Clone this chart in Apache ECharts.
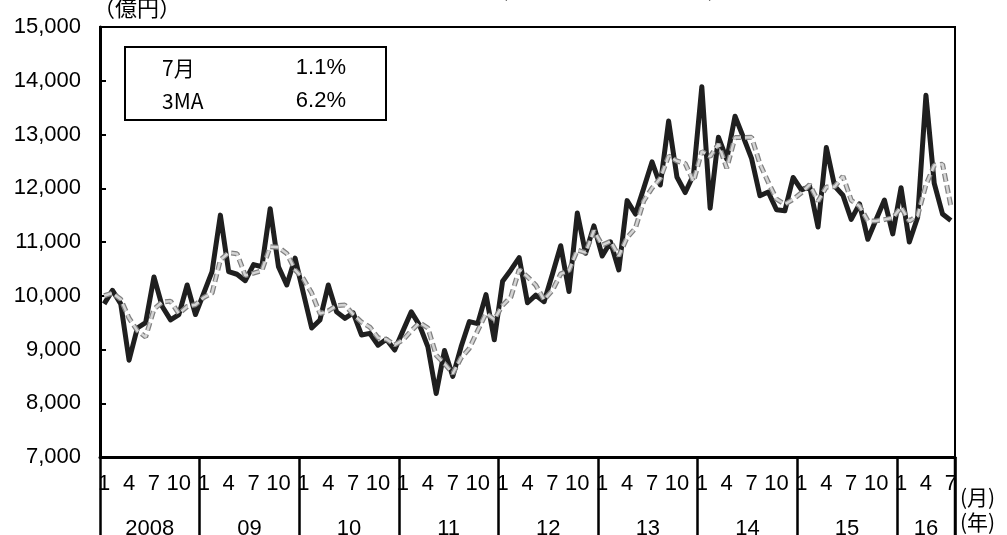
<!DOCTYPE html>
<html>
<head>
<meta charset="utf-8">
<script src="https://cdn.jsdelivr.net/npm/echarts@6/dist/echarts.min.js"></script>
<style>
html,body{margin:0;padding:0;background:#fff;}
#c{width:1007px;height:535px;}
</style>
</head>
<body>
<div id="c"></div>
<script>
// ---- data ----
const yearLabels = ['2008','09','10','11','12','13','14','15','16'];
const yearNumbers = [2008,2009,2010,2011,2012,2013,2014,2015,2016];
const monthsPerYear = [12,12,12,12,12,12,12,12,7];
const monthTickLabels = [1,4,7,10];

// monthly values (億円)
const orders2008 = [9850,10100,9850,8800,9400,9500,10350,9800,9550,9650,10200,9650];
const orders2009 = [10050,10450,11500,10450,10400,10280,10580,10540,11620,10540,10200,10700];
const orders2010 = [10050,9400,9550,10200,9700,9580,9680,9270,9300,9080,9190,8990];
const orders2011 = [9350,9700,9450,9050,8180,8980,8500,9050,9520,9480,10020,9180];
const orders2012 = [10270,10480,10710,9870,10010,9890,10400,10930,10080,11540,10790,11300];
const orders2013 = [10740,11000,10480,11770,11520,12000,12490,12060,13250,12210,11920,12250];
const orders2014 = [13890,11630,12950,12540,13340,12950,12550,11860,11930,11600,11580,12200];
const orders2015 = [11970,12030,11280,12760,12040,11870,11420,11710,11050,11420,11780,11150];
const orders2016 = [12010,11000,11460,13730,12090,11520,11400];

// 3-month moving average
const ma2008 = [10000,10050,9933,9583,9350,9233,9750,9883,9900,9667,9800,9833];
const ma2009 = [9967,10050,10667,10800,10783,10377,10420,10467,10913,10900,10787,10480];
const ma2010 = [10317,10050,9667,9717,9817,9827,9653,9510,9417,9217,9190,9087];
const ma2011 = [9177,9347,9500,9400,8893,8737,8553,8843,9023,9350,9673,9560];
const ma2012 = [9823,9977,10487,10353,10197,9923,10100,10407,10470,10850,10803,11210];
const ma2013 = [10943,11013,10740,11083,11257,11763,12003,12183,12600,12507,12460,12127];
const ma2014 = [12687,12590,12823,12373,12943,12943,12947,12453,12113,11797,11703,11793];
const ma2015 = [11917,12067,11760,12023,12027,12223,11777,11667,11393,11393,11417,11450];
const ma2016 = [11647,11387,11490,12063,12427,12447,11670];

const yMin = 7000, yMax = 15000, yStep = 1000;
const legendRows = [['7月','1.1%'],['3MA','6.2%']];
const unitLabel = '（億円）';
const titleText = '機械受注の総額(船舶・電力を除く民需)';

const orders = [].concat(orders2008,orders2009,orders2010,orders2011,orders2012,orders2013,orders2014,orders2015,orders2016);
const ma3 = [].concat(ma2008,ma2009,ma2010,ma2011,ma2012,ma2013,ma2014,ma2015,ma2016);
const categories = [];
yearNumbers.forEach((y,k)=>{ for(let m=1;m<=monthsPerYear[k];m++) categories.push(y+'/'+m); });

const chart = echarts.init(document.getElementById('c'));
const baseFont = 'Liberation Sans, Arial, sans-serif';
const jpFont = 'Noto Sans CJK JP, sans-serif';

chart.setOption({
  animation:false,
  grid:{left:100,right:52,top:27,bottom:78,show:true,borderColor:'#000',borderWidth:2,backgroundColor:'rgba(0,0,0,0)'},
  xAxis:{
    type:'category', data:categories, boundaryGap:true,
    axisLine:{lineStyle:{color:'#000',width:3}},
    axisTick:{show:true, interval:(i)=> i%12===0, length:78, lineStyle:{color:'#000',width:2.5}},
    axisLabel:{interval:(i)=> monthTickLabels.indexOf(i%12+1)>=0, formatter:(v)=>v.split('/')[1],
      fontSize:22, color:'#000', margin:16, fontFamily:baseFont},
    splitLine:{show:false}
  },
  yAxis:{
    type:'value', min:yMin, max:yMax, interval:yStep,
    axisLine:{show:true,lineStyle:{color:'#000',width:3}},
    axisTick:{show:true,inside:true,length:6,lineStyle:{color:'#000',width:2}},
    splitLine:{show:false},
    axisLabel:{formatter:(v)=>v.toLocaleString('en-US'), fontSize:22, color:'#000', margin:19, fontFamily:baseFont}
  },
  series:[
    {type:'line', data:orders, symbol:'none', z:2, lineStyle:{color:'#1f1f1f',width:5,join:'round'}},
    {type:'line', data:ma3, symbol:'none', z:3, lineStyle:{color:'#808080',width:5,type:[8,4]}},
    {type:'line', data:ma3, symbol:'none', z:4, lineStyle:{color:'#d4d4d4',width:2.5,type:[8,4]}}
  ]
});

// year labels and frame extension, positioned from the axis scale
const gfx = [];
let start = 0;
const xA = (i)=> chart.convertToPixel({xAxisIndex:0}, categories[i]);
const band = xA(1) - xA(0);
const yBottom = chart.convertToPixel({yAxisIndex:0}, yMin);
yearLabels.forEach((lab,k)=>{
  const n = monthsPerYear[k];
  const cx = (xA(start) + xA(start+n-1))/2;
  gfx.push({type:'text', x:cx, y:529, style:{text:lab, fill:'#000', font:'22px '+baseFont, align:'center', verticalAlign:'middle'}});
  start += n;
});
const xEnd = xA(categories.length-1) + band/2;
gfx.push({type:'line', shape:{x1:xEnd,y1:yBottom,x2:xEnd,y2:535}, style:{stroke:'#000',lineWidth:2.5}});
gfx.push({type:'text', x:xEnd+5, y:497, style:{text:'(月)', fill:'#000', font:'21px '+jpFont, align:'left', verticalAlign:'middle'}});
gfx.push({type:'text', x:xEnd+5, y:522, style:{text:'(年)', fill:'#000', font:'21px '+jpFont, align:'left', verticalAlign:'middle'}});
// unit
gfx.push({type:'text', x:93, y:8, style:{text:unitLabel, fill:'#000', font:'22px '+jpFont, align:'left', verticalAlign:'middle'}});
// title (cut at top)
gfx.push({type:'text', x:538, y:-11, style:{text:titleText, fill:'#555', font:'20px '+jpFont, align:'center', verticalAlign:'middle'}});
// legend box
gfx.push({type:'rect', shape:{x:125,y:47,width:261,height:73}, style:{fill:'#fff',stroke:'#000',lineWidth:2}, z:10});
legendRows.forEach((r,k)=>{
  const yy = 68 + k*33;
  gfx.push({type:'text', x:162, y:yy, z:11, style:{text:r[0], fill:'#000', font:'21px '+jpFont, align:'left', verticalAlign:'middle'}});
  gfx.push({type:'text', x:346, y:yy, z:11, style:{text:r[1], fill:'#000', font:'22px '+baseFont, align:'right', verticalAlign:'middle'}});
});
chart.setOption({graphic:gfx});
</script>
</body>
</html>
